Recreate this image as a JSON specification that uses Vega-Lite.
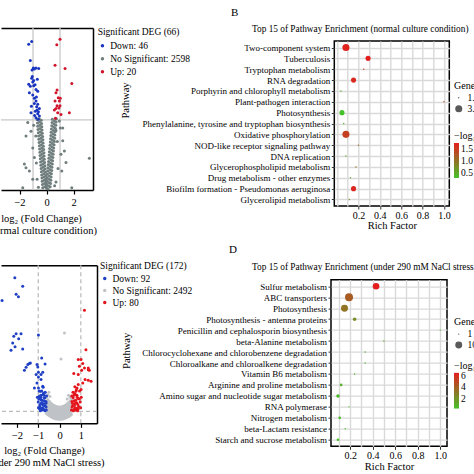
{
  "$schema": "https://vega.github.io/schema/vega-lite/v6.json",
  "padding": {"left": -17, "top": 6, "right": 0, "bottom": 0},
  "background": "white",
  "config": {
    "font": "Liberation Serif",
    "view": {"stroke": null},
    "title": {"font": "Liberation Serif", "fontWeight": "normal", "color": "black"},
    "axis": {"labelFont": "Liberation Serif", "titleFont": "Liberation Serif", "labelColor": "black", "titleColor": "black", "titleFontWeight": "normal"},
    "legend": {"labelFont": "Liberation Serif", "titleFont": "Liberation Serif", "labelColor": "black", "titleColor": "black", "titleFontWeight": "normal", "padding": 0}
  },
  "datasets": {
    "volA": [
      {"x":-0.28,"y":0.04,"g":"No Significant"},{"x":-0.13,"y":0.06,"g":"No Significant"},{"x":0.02,"y":0.03,"g":"No Significant"},{"x":-0.03,"y":0.05,"g":"No Significant"},{"x":0.12,"y":0.02,"g":"No Significant"},{"x":0.27,"y":0.06,"g":"No Significant"},
      {"x":-0.30,"y":0.10,"g":"No Significant"},{"x":-0.15,"y":0.12,"g":"No Significant"},{"x":0.00,"y":0.09,"g":"No Significant"},{"x":0.00,"y":0.11,"g":"No Significant"},{"x":0.15,"y":0.08,"g":"No Significant"},{"x":0.30,"y":0.12,"g":"No Significant"},
      {"x":-0.32,"y":0.16,"g":"No Significant"},{"x":-0.17,"y":0.18,"g":"No Significant"},{"x":-0.02,"y":0.15,"g":"No Significant"},{"x":0.02,"y":0.17,"g":"No Significant"},{"x":0.17,"y":0.14,"g":"No Significant"},{"x":0.32,"y":0.18,"g":"No Significant"},
      {"x":-0.34,"y":0.22,"g":"No Significant"},{"x":-0.19,"y":0.24,"g":"No Significant"},{"x":-0.04,"y":0.21,"g":"No Significant"},{"x":0.04,"y":0.23,"g":"No Significant"},{"x":0.19,"y":0.20,"g":"No Significant"},{"x":0.34,"y":0.24,"g":"No Significant"},
      {"x":-0.36,"y":0.28,"g":"No Significant"},{"x":-0.21,"y":0.30,"g":"No Significant"},{"x":-0.06,"y":0.27,"g":"No Significant"},{"x":0.06,"y":0.29,"g":"No Significant"},{"x":0.21,"y":0.26,"g":"No Significant"},{"x":0.36,"y":0.30,"g":"No Significant"},
      {"x":-0.38,"y":0.34,"g":"No Significant"},{"x":-0.23,"y":0.36,"g":"No Significant"},{"x":-0.08,"y":0.33,"g":"No Significant"},{"x":0.08,"y":0.35,"g":"No Significant"},{"x":0.23,"y":0.32,"g":"No Significant"},{"x":0.38,"y":0.36,"g":"No Significant"},
      {"x":-0.40,"y":0.40,"g":"No Significant"},{"x":-0.25,"y":0.42,"g":"No Significant"},{"x":-0.10,"y":0.39,"g":"No Significant"},{"x":0.10,"y":0.41,"g":"No Significant"},{"x":0.25,"y":0.38,"g":"No Significant"},{"x":0.40,"y":0.42,"g":"No Significant"},
      {"x":-0.42,"y":0.46,"g":"No Significant"},{"x":-0.27,"y":0.48,"g":"No Significant"},{"x":-0.12,"y":0.45,"g":"No Significant"},{"x":0.13,"y":0.47,"g":"No Significant"},{"x":0.28,"y":0.44,"g":"No Significant"},{"x":0.43,"y":0.48,"g":"No Significant"},
      {"x":-0.44,"y":0.52,"g":"No Significant"},{"x":-0.29,"y":0.54,"g":"No Significant"},{"x":-0.14,"y":0.51,"g":"No Significant"},{"x":0.15,"y":0.53,"g":"No Significant"},{"x":0.30,"y":0.50,"g":"No Significant"},{"x":0.45,"y":0.54,"g":"No Significant"},
      {"x":-0.46,"y":0.58,"g":"No Significant"},{"x":-0.31,"y":0.60,"g":"No Significant"},{"x":-0.16,"y":0.57,"g":"No Significant"},{"x":0.17,"y":0.59,"g":"No Significant"},{"x":0.32,"y":0.56,"g":"No Significant"},{"x":0.47,"y":0.60,"g":"No Significant"},
      {"x":-0.48,"y":0.64,"g":"No Significant"},{"x":-0.33,"y":0.66,"g":"No Significant"},{"x":-0.18,"y":0.63,"g":"No Significant"},{"x":0.19,"y":0.65,"g":"No Significant"},{"x":0.34,"y":0.62,"g":"No Significant"},{"x":0.49,"y":0.66,"g":"No Significant"},
      {"x":-0.49,"y":0.70,"g":"No Significant"},{"x":-0.34,"y":0.72,"g":"No Significant"},{"x":-0.19,"y":0.69,"g":"No Significant"},{"x":0.21,"y":0.71,"g":"No Significant"},{"x":0.36,"y":0.68,"g":"No Significant"},{"x":0.51,"y":0.72,"g":"No Significant"},
      {"x":-0.51,"y":0.76,"g":"No Significant"},{"x":-0.36,"y":0.78,"g":"No Significant"},{"x":-0.21,"y":0.75,"g":"No Significant"},{"x":0.23,"y":0.77,"g":"No Significant"},{"x":0.38,"y":0.74,"g":"No Significant"},{"x":0.53,"y":0.78,"g":"No Significant"},
      {"x":-0.53,"y":0.82,"g":"No Significant"},{"x":-0.38,"y":0.84,"g":"No Significant"},{"x":-0.23,"y":0.81,"g":"No Significant"},{"x":0.26,"y":0.83,"g":"No Significant"},{"x":0.41,"y":0.80,"g":"No Significant"},{"x":0.56,"y":0.84,"g":"No Significant"},
      {"x":-0.55,"y":0.88,"g":"No Significant"},{"x":-0.40,"y":0.90,"g":"No Significant"},{"x":-0.25,"y":0.87,"g":"No Significant"},{"x":0.28,"y":0.89,"g":"No Significant"},{"x":0.43,"y":0.86,"g":"No Significant"},{"x":0.58,"y":0.90,"g":"No Significant"},
      {"x":-0.57,"y":0.94,"g":"No Significant"},{"x":-0.42,"y":0.96,"g":"No Significant"},{"x":-0.27,"y":0.93,"g":"No Significant"},{"x":0.30,"y":0.95,"g":"No Significant"},{"x":0.45,"y":0.92,"g":"No Significant"},{"x":0.60,"y":0.96,"g":"No Significant"},
      {"x":-0.59,"y":1.00,"g":"No Significant"},{"x":-0.44,"y":1.02,"g":"No Significant"},{"x":-0.29,"y":0.99,"g":"No Significant"},{"x":0.32,"y":1.01,"g":"No Significant"},{"x":0.47,"y":0.98,"g":"No Significant"},{"x":0.62,"y":1.02,"g":"No Significant"},
      {"x":-0.61,"y":1.06,"g":"No Significant"},{"x":-0.46,"y":1.08,"g":"No Significant"},{"x":-0.31,"y":1.05,"g":"No Significant"},{"x":0.34,"y":1.07,"g":"No Significant"},{"x":0.49,"y":1.04,"g":"No Significant"},{"x":0.64,"y":1.08,"g":"No Significant"},
      {"x":-0.63,"y":1.12,"g":"No Significant"},{"x":-0.48,"y":1.14,"g":"No Significant"},{"x":-0.33,"y":1.11,"g":"No Significant"},{"x":0.36,"y":1.13,"g":"No Significant"},{"x":0.51,"y":1.10,"g":"No Significant"},{"x":0.66,"y":1.14,"g":"No Significant"},
      {"x":-0.65,"y":1.18,"g":"No Significant"},{"x":-0.50,"y":1.20,"g":"No Significant"},{"x":-0.35,"y":1.17,"g":"No Significant"},{"x":0.39,"y":1.19,"g":"No Significant"},{"x":0.54,"y":1.16,"g":"No Significant"},{"x":0.69,"y":1.20,"g":"No Significant"},
      {"x":-0.67,"y":1.24,"g":"No Significant"},{"x":-0.52,"y":1.26,"g":"No Significant"},{"x":-0.37,"y":1.23,"g":"No Significant"},{"x":0.41,"y":1.25,"g":"No Significant"},{"x":0.56,"y":1.22,"g":"No Significant"},{"x":0.71,"y":1.26,"g":"No Significant"},
      {"x":-0.69,"y":1.30,"g":"No Significant"},{"x":-0.54,"y":1.32,"g":"No Significant"},{"x":-0.39,"y":1.29,"g":"No Significant"},{"x":0.43,"y":1.31,"g":"No Significant"},{"x":0.58,"y":1.28,"g":"No Significant"},{"x":0.73,"y":1.32,"g":"No Significant"},
      {"x":-1.39,"y":1.25,"g":"No Significant"},{"x":-1.52,"y":1.0,"g":"No Significant"},{"x":-1.15,"y":1.09,"g":"No Significant"},{"x":-1.02,"y":0.78,"g":"No Significant"},{"x":-1.64,"y":0.48,"g":"No Significant"},{"x":-1.52,"y":0.41,"g":"No Significant"},
      {"x":-1.27,"y":0.35,"g":"No Significant"},{"x":-1.76,"y":0.04,"g":"No Significant"},{"x":-1.02,"y":0.2,"g":"No Significant"},{"x":1.2,"y":0.91,"g":"No Significant"},{"x":1.32,"y":0.72,"g":"No Significant"},{"x":1.44,"y":0.51,"g":"No Significant"},
      {"x":1.13,"y":0.35,"g":"No Significant"},{"x":1.87,"y":0.04,"g":"No Significant"},{"x":3.17,"y":0.59,"g":"No Significant"},{"x":1.02,"y":1.15,"g":"No Significant"},{"x":-0.90,"y":0.6,"g":"No Significant"},{"x":1.07,"y":0.66,"g":"No Significant"},
      {"x":0.95,"y":1.28,"g":"No Significant"},{"x":1.2,"y":1.15,"g":"No Significant"},{"x":-0.8,"y":1.0,"g":"No Significant"},{"x":-0.75,"y":0.5,"g":"No Significant"},{"x":0.8,"y":0.9,"g":"No Significant"},{"x":0.85,"y":0.4,"g":"No Significant"},
      {"x":-0.7,"y":0.2,"g":"No Significant"},{"x":0.7,"y":0.15,"g":"No Significant"},{"x":-0.95,"y":1.2,"g":"No Significant"},{"x":0.7,"y":1.1,"g":"No Significant"},{"x":-0.6,"y":0.05,"g":"No Significant"},{"x":0.6,"y":0.08,"g":"No Significant"},
      {"x":-1.32,"y":2.70,"g":"Down"},{"x":-1.10,"y":2.75,"g":"Down"},{"x":-1.20,"y":2.40,"g":"Down"},{"x":-0.98,"y":2.26,"g":"Down"},{"x":-1.07,"y":2.22,"g":"Down"},{"x":-0.90,"y":2.24,"g":"Down"},
      {"x":-0.78,"y":2.26,"g":"Down"},{"x":-0.58,"y":2.25,"g":"Down"},{"x":-1.10,"y":2.07,"g":"Down"},{"x":-0.95,"y":2.03,"g":"Down"},{"x":-1.02,"y":2.00,"g":"Down"},{"x":-1.32,"y":1.96,"g":"Down"},
      {"x":-1.20,"y":1.92,"g":"Down"},{"x":-0.95,"y":1.93,"g":"Down"},{"x":-0.78,"y":1.86,"g":"Down"},{"x":-1.27,"y":1.80,"g":"Down"},{"x":-1.02,"y":1.76,"g":"Down"},{"x":-0.65,"y":1.83,"g":"Down"},
      {"x":-0.90,"y":1.70,"g":"Down"},{"x":-0.78,"y":1.65,"g":"Down"},{"x":-0.65,"y":1.59,"g":"Down"},{"x":-0.90,"y":1.60,"g":"Down"},{"x":-0.73,"y":1.54,"g":"Down"},{"x":-0.53,"y":1.51,"g":"Down"},
      {"x":-1.15,"y":1.43,"g":"Down"},{"x":-0.83,"y":1.46,"g":"Down"},{"x":-0.65,"y":1.41,"g":"Down"},{"x":-0.53,"y":1.37,"g":"Down"},{"x":-0.78,"y":1.34,"g":"Down"},{"x":-0.61,"y":1.31,"g":"Down"},
      {"x":-1.05,"y":2.10,"g":"Down"},{"x":-0.85,"y":1.95,"g":"Down"},{"x":-0.70,"y":1.48,"g":"Down"},{"x":-0.60,"y":1.45,"g":"Down"},{"x":-0.75,"y":1.72,"g":"Down"},{"x":-0.88,"y":1.38,"g":"Down"},
      {"x":-1.12,"y":1.55,"g":"Down"},{"x":-0.68,"y":2.05,"g":"Down"},
      {"x":1.00,"y":2.79,"g":"Up"},{"x":0.76,"y":2.69,"g":"Up"},{"x":0.63,"y":2.31,"g":"Up"},{"x":1.37,"y":2.25,"g":"Up"},{"x":1.87,"y":1.97,"g":"Up"},{"x":0.78,"y":1.85,"g":"Up"},
      {"x":0.70,"y":1.80,"g":"Up"},{"x":0.87,"y":1.71,"g":"Up"},{"x":0.63,"y":1.65,"g":"Up"},{"x":0.95,"y":1.65,"g":"Up"},{"x":1.02,"y":1.70,"g":"Up"},{"x":0.78,"y":1.56,"g":"Up"},
      {"x":1.00,"y":1.56,"g":"Up"},{"x":0.58,"y":1.48,"g":"Up"},{"x":0.83,"y":1.43,"g":"Up"},{"x":1.07,"y":1.40,"g":"Up"},{"x":1.69,"y":1.43,"g":"Up"},{"x":0.70,"y":1.51,"g":"Up"},
      {"x":0.92,"y":1.52,"g":"Up"},{"x":0.66,"y":1.33,"g":"Up"}
    ],
    "volC": [
      {"x":-0.62,"y":0.96,"g":"No Significant"},{"x":-0.62,"y":1.82,"g":"No Significant"},{"x":-0.62,"y":2.68,"g":"No Significant"},{"x":-0.62,"y":3.54,"g":"No Significant"},
      {"x":-0.55,"y":0.76,"g":"No Significant"},{"x":-0.55,"y":1.58,"g":"No Significant"},{"x":-0.55,"y":2.39,"g":"No Significant"},{"x":-0.55,"y":3.21,"g":"No Significant"},
      {"x":-0.48,"y":0.58,"g":"No Significant"},{"x":-0.48,"y":1.36,"g":"No Significant"},{"x":-0.48,"y":2.14,"g":"No Significant"},{"x":-0.48,"y":2.92,"g":"No Significant"},
      {"x":-0.41,"y":0.42,"g":"No Significant"},{"x":-0.41,"y":1.17,"g":"No Significant"},{"x":-0.41,"y":1.92,"g":"No Significant"},{"x":-0.41,"y":2.67,"g":"No Significant"},
      {"x":-0.34,"y":0.29,"g":"No Significant"},{"x":-0.34,"y":1.01,"g":"No Significant"},{"x":-0.34,"y":1.74,"g":"No Significant"},{"x":-0.34,"y":2.46,"g":"No Significant"},
      {"x":-0.27,"y":0.18,"g":"No Significant"},{"x":-0.27,"y":0.88,"g":"No Significant"},{"x":-0.27,"y":1.59,"g":"No Significant"},{"x":-0.27,"y":2.29,"g":"No Significant"},
      {"x":-0.20,"y":0.10,"g":"No Significant"},{"x":-0.20,"y":0.79,"g":"No Significant"},{"x":-0.20,"y":1.47,"g":"No Significant"},{"x":-0.20,"y":2.16,"g":"No Significant"},
      {"x":-0.13,"y":0.04,"g":"No Significant"},{"x":-0.13,"y":0.72,"g":"No Significant"},{"x":-0.13,"y":1.39,"g":"No Significant"},{"x":-0.13,"y":2.07,"g":"No Significant"},
      {"x":-0.06,"y":0.01,"g":"No Significant"},{"x":-0.06,"y":0.68,"g":"No Significant"},{"x":-0.06,"y":1.34,"g":"No Significant"},{"x":-0.06,"y":2.01,"g":"No Significant"},
      {"x":0.01,"y":0.0,"g":"No Significant"},{"x":0.01,"y":0.67,"g":"No Significant"},{"x":0.01,"y":1.33,"g":"No Significant"},{"x":0.01,"y":2.0,"g":"No Significant"},
      {"x":0.08,"y":0.02,"g":"No Significant"},{"x":0.08,"y":0.69,"g":"No Significant"},{"x":0.08,"y":1.36,"g":"No Significant"},{"x":0.08,"y":2.03,"g":"No Significant"},
      {"x":0.15,"y":0.06,"g":"No Significant"},{"x":0.15,"y":0.74,"g":"No Significant"},{"x":0.15,"y":1.41,"g":"No Significant"},{"x":0.15,"y":2.09,"g":"No Significant"},
      {"x":0.22,"y":0.12,"g":"No Significant"},{"x":0.22,"y":0.81,"g":"No Significant"},{"x":0.22,"y":1.50,"g":"No Significant"},{"x":0.22,"y":2.19,"g":"No Significant"},
      {"x":0.29,"y":0.21,"g":"No Significant"},{"x":0.29,"y":0.92,"g":"No Significant"},{"x":0.29,"y":1.63,"g":"No Significant"},{"x":0.29,"y":2.34,"g":"No Significant"},
      {"x":0.36,"y":0.32,"g":"No Significant"},{"x":0.36,"y":1.05,"g":"No Significant"},{"x":0.36,"y":1.79,"g":"No Significant"},{"x":0.36,"y":2.52,"g":"No Significant"},
      {"x":0.43,"y":0.46,"g":"No Significant"},{"x":0.43,"y":1.22,"g":"No Significant"},{"x":0.43,"y":1.98,"g":"No Significant"},{"x":0.43,"y":2.74,"g":"No Significant"},
      {"x":0.50,"y":0.63,"g":"No Significant"},{"x":0.50,"y":1.42,"g":"No Significant"},{"x":0.50,"y":2.21,"g":"No Significant"},{"x":0.50,"y":3.0,"g":"No Significant"},
      {"x":0.56,"y":0.78,"g":"No Significant"},{"x":0.56,"y":1.60,"g":"No Significant"},{"x":0.56,"y":2.43,"g":"No Significant"},{"x":0.56,"y":3.25,"g":"No Significant"},
      {"x":-0.585,"y":1.28,"g":"No Significant"},{"x":-0.585,"y":2.11,"g":"No Significant"},{"x":-0.585,"y":2.95,"g":"No Significant"},
      {"x":-0.515,"y":1.06,"g":"No Significant"},{"x":-0.515,"y":1.86,"g":"No Significant"},{"x":-0.515,"y":2.66,"g":"No Significant"},
      {"x":-0.445,"y":0.88,"g":"No Significant"},{"x":-0.445,"y":1.65,"g":"No Significant"},{"x":-0.445,"y":2.41,"g":"No Significant"},
      {"x":-0.375,"y":0.72,"g":"No Significant"},{"x":-0.375,"y":1.46,"g":"No Significant"},{"x":-0.375,"y":2.19,"g":"No Significant"},
      {"x":-0.305,"y":0.59,"g":"No Significant"},{"x":-0.305,"y":1.30,"g":"No Significant"},{"x":-0.305,"y":2.01,"g":"No Significant"},
      {"x":-0.235,"y":0.49,"g":"No Significant"},{"x":-0.235,"y":1.18,"g":"No Significant"},{"x":-0.235,"y":1.87,"g":"No Significant"},
      {"x":-0.165,"y":0.41,"g":"No Significant"},{"x":-0.165,"y":1.09,"g":"No Significant"},{"x":-0.165,"y":1.77,"g":"No Significant"},
      {"x":-0.095,"y":0.36,"g":"No Significant"},{"x":-0.095,"y":1.03,"g":"No Significant"},{"x":-0.095,"y":1.70,"g":"No Significant"},
      {"x":-0.025,"y":0.33,"g":"No Significant"},{"x":-0.025,"y":1.0,"g":"No Significant"},{"x":-0.025,"y":1.67,"g":"No Significant"},
      {"x":0.045,"y":0.34,"g":"No Significant"},{"x":0.045,"y":1.01,"g":"No Significant"},{"x":0.045,"y":1.68,"g":"No Significant"},
      {"x":0.115,"y":0.37,"g":"No Significant"},{"x":0.115,"y":1.04,"g":"No Significant"},{"x":0.115,"y":1.71,"g":"No Significant"},
      {"x":0.185,"y":0.43,"g":"No Significant"},{"x":0.185,"y":1.11,"g":"No Significant"},{"x":0.185,"y":1.80,"g":"No Significant"},
      {"x":0.255,"y":0.51,"g":"No Significant"},{"x":0.255,"y":1.21,"g":"No Significant"},{"x":0.255,"y":1.91,"g":"No Significant"},
      {"x":0.325,"y":0.62,"g":"No Significant"},{"x":0.325,"y":1.34,"g":"No Significant"},{"x":0.325,"y":2.06,"g":"No Significant"},
      {"x":0.395,"y":0.76,"g":"No Significant"},{"x":0.395,"y":1.51,"g":"No Significant"},{"x":0.395,"y":2.25,"g":"No Significant"},
      {"x":0.465,"y":0.93,"g":"No Significant"},{"x":0.465,"y":1.70,"g":"No Significant"},{"x":0.465,"y":2.47,"g":"No Significant"},
      {"x":0.535,"y":1.12,"g":"No Significant"},{"x":0.535,"y":1.93,"g":"No Significant"},{"x":0.535,"y":2.74,"g":"No Significant"},
      {"x":0.23,"y":14.0,"g":"No Significant"},{"x":0.07,"y":9.8,"g":"No Significant"},{"x":-0.5,"y":4.4,"g":"No Significant"},{"x":0.42,"y":3.9,"g":"No Significant"},
      {"x":-0.45,"y":3.7,"g":"No Significant"},{"x":0.36,"y":3.3,"g":"No Significant"},{"x":-0.55,"y":4.0,"g":"No Significant"},{"x":0.5,"y":3.6,"g":"No Significant"},
      {"x":-2.10,"y":22.98,"g":"Down"},{"x":-1.73,"y":21.6,"g":"Down"},{"x":-2.04,"y":20.3,"g":"Down"},{"x":-1.93,"y":19.9,"g":"Down"},{"x":-2.70,"y":19.3,"g":"Down"},
      {"x":-2.15,"y":13.5,"g":"Down"},{"x":-2.04,"y":13.9,"g":"Down"},{"x":-1.81,"y":13.9,"g":"Down"},{"x":-1.92,"y":13.1,"g":"Down"},{"x":-2.20,"y":12.4,"g":"Down"},
      {"x":-2.09,"y":11.8,"g":"Down"},{"x":-2.28,"y":11.2,"g":"Down"},{"x":-1.73,"y":11.4,"g":"Down"},{"x":-0.99,"y":13.7,"g":"Down"},{"x":-1.49,"y":8.9,"g":"Down"},
      {"x":-1.42,"y":9.05,"g":"Down"},{"x":-1.57,"y":8.46,"g":"Down"},{"x":-1.65,"y":7.97,"g":"Down"},{"x":-0.84,"y":9.97,"g":"Down"},{"x":-0.68,"y":9.0,"g":"Down"},
      {"x":-1.06,"y":8.9,"g":"Down"},{"x":-0.99,"y":7.64,"g":"Down"},{"x":-0.87,"y":7.27,"g":"Down"},{"x":-1.37,"y":9.16,"g":"Down"},{"x":-1.02,"y":8.5,"g":"Down"},
      {"x":-1.10,"y":7.27,"g":"Down"},{"x":-0.99,"y":6.88,"g":"Down"},{"x":-0.87,"y":6.45,"g":"Down"},{"x":-0.79,"y":7.64,"g":"Down"},{"x":-1.06,"y":5.9,"g":"Down"},
      {"x":-1.18,"y":5.09,"g":"Down"},{"x":-0.99,"y":5.09,"g":"Down"},{"x":-0.90,"y":4.55,"g":"Down"},{"x":-0.79,"y":5.37,"g":"Down"},{"x":-0.74,"y":4.28,"g":"Down"},
      {"x":-0.95,"y":3.74,"g":"Down"},{"x":-0.87,"y":3.2,"g":"Down"},{"x":-0.71,"y":3.46,"g":"Down"},{"x":-0.63,"y":2.65,"g":"Down"},{"x":-0.79,"y":2.39,"g":"Down"},
      {"x":-0.62,"y":1.5,"g":"Down"},{"x":-0.68,"y":2.2,"g":"Down"},{"x":-0.74,"y":1.6,"g":"Down"},{"x":-0.80,"y":2.6,"g":"Down"},{"x":-0.86,"y":1.8,"g":"Down"},
      {"x":-0.92,"y":2.4,"g":"Down"},{"x":-0.97,"y":3.3,"g":"Down"},{"x":-0.64,"y":2.9,"g":"Down"},{"x":-0.70,"y":3.5,"g":"Down"},{"x":-0.76,"y":2.3,"g":"Down"},
      {"x":-0.82,"y":3.1,"g":"Down"},{"x":-0.88,"y":3.9,"g":"Down"},{"x":-0.94,"y":1.7,"g":"Down"},{"x":-1.0,"y":2.8,"g":"Down"},{"x":-0.61,"y":3.8,"g":"Down"},
      {"x":-0.67,"y":4.4,"g":"Down"},{"x":-0.73,"y":3.0,"g":"Down"},{"x":-0.79,"y":4.0,"g":"Down"},{"x":-0.85,"y":2.7,"g":"Down"},{"x":-0.91,"y":3.4,"g":"Down"},
      {"x":-0.96,"y":4.6,"g":"Down"},{"x":-0.63,"y":2.0,"g":"Down"},{"x":-0.69,"y":1.4,"g":"Down"},{"x":-0.75,"y":4.2,"g":"Down"},{"x":-0.81,"y":1.5,"g":"Down"},
      {"x":-0.87,"y":3.6,"g":"Down"},{"x":-0.93,"y":2.1,"g":"Down"},{"x":-0.99,"y":1.9,"g":"Down"},{"x":-0.66,"y":2.6,"g":"Down"},{"x":-0.72,"y":3.9,"g":"Down"},
      {"x":-0.78,"y":1.9,"g":"Down"},{"x":-0.84,"y":4.6,"g":"Down"},{"x":-0.90,"y":1.4,"g":"Down"},{"x":-1.04,"y":3.6,"g":"Down"},{"x":-0.77,"y":5.2,"g":"Down"},
      {"x":1.17,"y":17.7,"g":"Up"},{"x":1.24,"y":11.3,"g":"Up"},{"x":0.88,"y":9.7,"g":"Up"},{"x":1.01,"y":9.7,"g":"Up"},{"x":1.09,"y":9.05,"g":"Up"},
      {"x":0.93,"y":8.6,"g":"Up"},{"x":1.17,"y":8.35,"g":"Up"},{"x":1.35,"y":8.35,"g":"Up"},{"x":1.40,"y":7.97,"g":"Up"},{"x":1.04,"y":7.97,"g":"Up"},
      {"x":0.67,"y":7.43,"g":"Up"},{"x":0.88,"y":7.27,"g":"Up"},{"x":1.35,"y":8.07,"g":"Up"},{"x":1.20,"y":6.45,"g":"Up"},{"x":1.35,"y":6.34,"g":"Up"},
      {"x":1.48,"y":6.18,"g":"Up"},{"x":1.09,"y":5.9,"g":"Up"},{"x":0.88,"y":5.64,"g":"Up"},{"x":0.82,"y":5.09,"g":"Up"},{"x":1.01,"y":4.83,"g":"Up"},
      {"x":0.77,"y":4.55,"g":"Up"},
      {"x":0.56,"y":1.5,"g":"Up"},{"x":0.62,"y":2.2,"g":"Up"},{"x":0.68,"y":1.6,"g":"Up"},{"x":0.74,"y":2.6,"g":"Up"},{"x":0.80,"y":1.8,"g":"Up"},
      {"x":0.86,"y":2.4,"g":"Up"},{"x":0.93,"y":3.3,"g":"Up"},{"x":0.58,"y":2.9,"g":"Up"},{"x":0.64,"y":3.5,"g":"Up"},{"x":0.70,"y":2.3,"g":"Up"},
      {"x":0.76,"y":3.1,"g":"Up"},{"x":0.82,"y":3.9,"g":"Up"},{"x":0.88,"y":1.7,"g":"Up"},{"x":0.97,"y":2.8,"g":"Up"},{"x":0.57,"y":3.8,"g":"Up"},
      {"x":0.63,"y":4.4,"g":"Up"},{"x":0.69,"y":3.0,"g":"Up"},{"x":0.75,"y":4.0,"g":"Up"},{"x":0.81,"y":2.7,"g":"Up"},{"x":0.87,"y":3.4,"g":"Up"},
      {"x":0.94,"y":4.6,"g":"Up"},{"x":0.59,"y":2.0,"g":"Up"},{"x":0.65,"y":1.4,"g":"Up"},{"x":0.71,"y":4.2,"g":"Up"},{"x":0.77,"y":1.5,"g":"Up"},
      {"x":0.83,"y":3.6,"g":"Up"},{"x":0.90,"y":2.1,"g":"Up"},{"x":0.99,"y":1.9,"g":"Up"},{"x":0.61,"y":2.6,"g":"Up"},{"x":0.67,"y":3.9,"g":"Up"},
      {"x":0.73,"y":1.9,"g":"Up"},{"x":0.79,"y":4.8,"g":"Up"},{"x":0.85,"y":1.4,"g":"Up"},{"x":1.02,"y":3.6,"g":"Up"},{"x":0.72,"y":5.3,"g":"Up"}
    ],
    "pathB": [
      {"pathway":"Two-component system","rich":0.083,"genes":3,"logp":1.70},
      {"pathway":"Tuberculosis","rich":0.29,"genes":2,"logp":1.75},
      {"pathway":"Tryptophan metabolism","rich":0.25,"genes":1,"logp":1.45},
      {"pathway":"RNA degradation","rich":0.154,"genes":2,"logp":1.65},
      {"pathway":"Porphyrin and chlorophyll metabolism","rich":0.036,"genes":1,"logp":0.45},
      {"pathway":"Plant-pathogen interaction","rich":1.0,"genes":1,"logp":1.30},
      {"pathway":"Photosynthesis","rich":0.046,"genes":2,"logp":0.29},
      {"pathway":"Phenylalanine, tyrosine and tryptophan biosynthesis","rich":0.062,"genes":1,"logp":0.42},
      {"pathway":"Oxidative phosphorylation","rich":0.083,"genes":3,"logp":1.45},
      {"pathway":"NOD-like receptor signaling pathway","rich":0.2,"genes":1,"logp":1.10},
      {"pathway":"DNA replication","rich":0.083,"genes":1,"logp":0.60},
      {"pathway":"Glycerophospholipid metabolism","rich":0.177,"genes":1,"logp":1.05},
      {"pathway":"Drug metabolism - other enzymes","rich":0.125,"genes":1,"logp":0.55},
      {"pathway":"Biofilm formation - Pseudomonas aeruginosa","rich":0.154,"genes":2,"logp":1.68},
      {"pathway":"Glycerolipid metabolism","rich":0.114,"genes":1,"logp":0.80}
    ],
    "pathD": [
      {"pathway":"Sulfur metabolism","rich":0.43,"genes":9,"logp":6.5},
      {"pathway":"ABC transporters","rich":0.19,"genes":13,"logp":4.2},
      {"pathway":"Photosynthesis","rich":0.15,"genes":10,"logp":3.3},
      {"pathway":"Photosynthesis - antenna proteins","rich":0.24,"genes":3,"logp":2.3},
      {"pathway":"Penicillin and cephalosporin biosynthesis","rich":1.0,"genes":1,"logp":0.5},
      {"pathway":"beta-Alanine metabolism","rich":0.5,"genes":1,"logp":1.2},
      {"pathway":"Chlorocyclohexane and chlorobenzene degradation","rich":0.333,"genes":1,"logp":1.0},
      {"pathway":"Chloroalkane and chloroalkene degradation","rich":0.333,"genes":1,"logp":1.0},
      {"pathway":"Vitamin B6 metabolism","rich":0.24,"genes":1,"logp":0.8},
      {"pathway":"Arginine and proline metabolism","rich":0.12,"genes":2,"logp":1.0},
      {"pathway":"Amino sugar and nucleotide sugar metabolism","rich":0.092,"genes":3,"logp":0.8},
      {"pathway":"RNA polymerase","rich":0.19,"genes":1,"logp":0.6},
      {"pathway":"Nitrogen metabolism","rich":0.107,"genes":2,"logp":0.7},
      {"pathway":"beta-Lactam resistance","rich":0.157,"genes":1,"logp":0.5},
      {"pathway":"Starch and sucrose metabolism","rich":0.092,"genes":2,"logp":0.4}
    ]
  },
  "vconcat": [
    {
      "title": {"text": "B", "anchor": "start", "frame": "group", "dx": 230, "fontSize": 11, "offset": 6},
      "hconcat": [
        {
          "width": 92, "height": 191,
          "data": {"name": "volA"},
          "layer": [
            {
              "data": {"values": [{"fc": -1}, {"fc": 1}]},
              "mark": {"type": "rule", "color": "#c8c8c8", "strokeWidth": 1.3},
              "encoding": {
                "x": {"field": "fc", "type": "quantitative", "axis": {"orient": "top", "domain": true, "domainColor": "black", "domainWidth": 1.5, "ticks": false, "labels": false, "grid": false, "title": null}},
                "y": {"datum": 0, "axis": null},
                "y2": {"datum": 3.0}
              }
            },
            {
              "data": {"values": [{"p": 1.3}]},
              "mark": {"type": "rule", "color": "#c8c8c8", "strokeWidth": 1.3},
              "encoding": {"y": {"field": "p", "type": "quantitative", "axis": null}}
            },
            {
              "mark": {"type": "circle", "size": 9, "opacity": 1},
              "encoding": {
                "x": {"field": "x", "type": "quantitative", "scale": {"domain": [-3.37, 3.44], "nice": false, "zero": false},
                  "axis": {"orient": "bottom", "offset": -29, "values": [-2, 0, 2], "grid": false, "domainColor": "black", "domainWidth": 1.5, "tickColor": "black", "tickWidth": 1.2, "tickSize": 4, "labelFontSize": 10.5, "labelPadding": 3,
                    "title": ["log₂ (Fold Change)", "(normal culture condition)"], "titleFontSize": 10.5, "titleX": 40, "titleY": 31, "titleAlign": "center", "titleBaseline": "alphabetic", "titleLineHeight": 12.5}},
                "y": {"field": "y", "type": "quantitative", "scale": {"domain": [0, 3.0], "range": [162, 0], "nice": false, "zero": false},
                  "axis": {"orient": "right", "domain": true, "domainColor": "black", "domainWidth": 1.5, "ticks": false, "labels": false, "grid": false, "title": null}},
                "color": {"field": "g", "type": "nominal", "scale": {"domain": ["Down", "No Significant", "Up"], "range": ["#1a35c0", "#6f7d7d", "#d0142c"]},
                  "legend": {"title": "Significant DEG (66)", "orient": "none", "legendX": 96.7, "legendY": -1, "titleFontSize": 9.5, "labelFontSize": 9.5, "symbolSize": 12, "symbolType": "circle", "rowPadding": 2, "titlePadding": 4.5, "labelOffset": 3,
                    "labelExpr": "datum.label == 'Down' ? 'Down: 46' : datum.label == 'Up' ? 'Up: 20' : 'No Significant: 2598'"}}
              }
            }
          ],
          "resolve": {"axis": {"x": "independent", "y": "independent"}}
        },
        {
          "width": 115, "height": 165,
          "view": {"stroke": "black", "strokeWidth": 1.5},
          "title": {"text": "Top 15 of Pathway Enrichment (normal culture condition)", "anchor": "start", "frame": "group", "dx": -82.3, "fontSize": 9.3, "offset": 7},
          "data": {"name": "pathB"},
          "mark": {"type": "circle", "opacity": 1},
          "encoding": {
            "x": {"field": "rich", "type": "quantitative", "scale": {"domain": [-0.026, 1.05], "nice": false, "zero": false},
              "axis": {"values": [0, 0.1, 0.2, 0.3, 0.4, 0.5, 0.6, 0.7, 0.8, 0.9, 1.0], "labelExpr": "indexof(['0.2','0.4','0.6','0.8','1.0'], format(datum.value, '.1f')) >= 0 ? format(datum.value, '.1f') : ''",
                "tickOpacity": {"condition": {"test": "indexof(['0.2','0.4','0.6','0.8','1.0'], format(datum.value, '.1f')) >= 0", "value": 1}, "value": 0},
                "grid": true, "gridColor": "#d9d9d9", "gridWidth": 1.4, "domain": false, "tickColor": "#333333", "tickSize": 3, "labelFontSize": 10, "labelPadding": 1,
                "title": "Rich Factor", "titleFontSize": 10.5, "titleY": 22, "titleBaseline": "alphabetic"}},
            "y": {"field": "pathway", "type": "nominal", "sort": null, "scale": {"type": "point", "padding": 0.6},
              "axis": {"grid": true, "gridColor": "#d9d9d9", "gridWidth": 1.4, "domain": false, "tickSize": 3, "tickColor": "#333333", "labelFontSize": 9, "labelPadding": 1.5, "labelLimit": 300,
                "title": "Pathway", "titleFontSize": 10.5, "titleX": -208.3, "titleY": 59, "titleAlign": "center", "titleBaseline": "middle", "titleAngle": 270}},
            "size": {"field": "genes", "type": "quantitative", "scale": {"domain": [1, 3], "range": [2, 50]},
              "legend": {"title": "Gene number", "orient": "none", "legendX": 119.7, "legendY": 40, "values": [1, 3], "titleFontSize": 10, "labelFontSize": 9.5, "symbolFillColor": "#5a5a5a", "symbolStrokeWidth": 0, "rowPadding": 0, "titlePadding": 2}},
            "color": {"field": "logp", "type": "quantitative", "scale": {"domain": [0.29, 1.75], "range": ["#45c22a", "#e41e1e"], "interpolate": "rgb"},
              "legend": {"title": "−log₁₀(Pvalue)", "orient": "none", "legendX": 119.7, "legendY": 90, "direction": "vertical", "gradientLength": 35, "gradientThickness": 5, "values": [0.5, 1.0, 1.5], "format": ".1f", "titleFontSize": 10, "labelFontSize": 9.5, "gradientStrokeWidth": 0, "titlePadding": 2}}
          }
        }
      ],
      "spacing": 241.3,
      "bounds": "flush",
      "center": true,
      "resolve": {"scale": {"color": "independent", "size": "independent"}, "legend": {"color": "independent", "size": "independent"}}
    },
    {
      "title": {"text": "D", "anchor": "start", "frame": "group", "dx": 228, "fontSize": 11, "offset": 6},
      "hconcat": [
        {
          "width": 96, "height": 195.3,
          "data": {"name": "volC"},
          "layer": [
            {
              "data": {"values": [{"fc": -1}, {"fc": 1}]},
              "mark": {"type": "rule", "color": "#bdbdbd", "strokeWidth": 1.3, "strokeDash": [4, 3]},
              "encoding": {
                "x": {"field": "fc", "type": "quantitative", "axis": {"orient": "top", "domain": true, "domainColor": "black", "domainWidth": 1.5, "ticks": false, "labels": false, "grid": false, "title": null}},
                "y": {"datum": -0.65, "axis": null},
                "y2": {"datum": 25}
              }
            },
            {
              "data": {"values": [{"p": 1.3}]},
              "mark": {"type": "rule", "color": "#bdbdbd", "strokeWidth": 1.3, "strokeDash": [4, 3]},
              "encoding": {"y": {"field": "p", "type": "quantitative", "axis": null}}
            },
            {
              "mark": {"type": "circle", "size": 9, "opacity": 1},
              "encoding": {
                "x": {"field": "x", "type": "quantitative", "scale": {"domain": [-2.75, 1.76], "nice": false, "zero": false},
                  "axis": {"orient": "bottom", "offset": -37.3, "values": [-2, -1, 0, 1], "grid": false, "domainColor": "black", "domainWidth": 1.5, "tickColor": "black", "tickWidth": 1.2, "tickSize": 4, "labelFontSize": 10.5, "labelPadding": 3,
                    "title": ["log₂ (Fold Change)", "(under 290 mM NaCl stress)"], "titleFontSize": 10.5, "titleX": 43, "titleY": 30.5, "titleAlign": "center", "titleBaseline": "alphabetic", "titleLineHeight": 12}},
                "y": {"field": "y", "type": "quantitative", "scale": {"domain": [-0.65, 25], "range": [158, 0], "nice": false, "zero": false},
                  "axis": {"orient": "right", "domain": true, "domainColor": "black", "domainWidth": 1.5, "ticks": false, "labels": false, "grid": false, "title": null}},
                "color": {"field": "g", "type": "nominal", "scale": {"domain": ["Down", "No Significant", "Up"], "range": ["#1f3fc4", "#bfc3c7", "#e3141c"]},
                  "legend": {"title": "Significant DEG (172)", "orient": "none", "legendX": 99, "legendY": -4, "titleFontSize": 9.5, "labelFontSize": 9.5, "symbolSize": 12, "symbolType": "circle", "rowPadding": 1, "titlePadding": 3, "labelOffset": 3,
                    "labelExpr": "datum.label == 'Down' ? 'Down: 92' : datum.label == 'Up' ? 'Up: 80' : 'No Significant: 2492'"}}
              }
            }
          ],
          "resolve": {"axis": {"x": "independent", "y": "independent"}}
        },
        {
          "width": 116, "height": 166.7,
          "view": {"stroke": "black", "strokeWidth": 1.5},
          "title": {"text": "Top 15 of Pathway Enrichment (under 290 mM NaCl stress)", "anchor": "start", "frame": "group", "dx": -79, "fontSize": 9.3, "offset": 7},
          "data": {"name": "pathD"},
          "mark": {"type": "circle", "opacity": 1},
          "encoding": {
            "x": {"field": "rich", "type": "quantitative", "scale": {"domain": [0.03, 1.06], "nice": false, "zero": false},
              "axis": {"values": [0.1, 0.2, 0.3, 0.4, 0.5, 0.6, 0.7, 0.8, 0.9, 1.0], "labelExpr": "indexof(['0.2','0.4','0.6','0.8','1.0'], format(datum.value, '.1f')) >= 0 ? format(datum.value, '.1f') : ''",
                "tickOpacity": {"condition": {"test": "indexof(['0.2','0.4','0.6','0.8','1.0'], format(datum.value, '.1f')) >= 0", "value": 1}, "value": 0},
                "grid": true, "gridColor": "#d9d9d9", "gridWidth": 1.4, "domain": false, "tickColor": "#333333", "tickSize": 3, "labelFontSize": 10, "labelPadding": 1,
                "title": "Rich Factor", "titleFontSize": 10.5, "titleY": 23, "titleBaseline": "alphabetic"}},
            "y": {"field": "pathway", "type": "nominal", "sort": null, "scale": {"type": "point", "padding": 0.6},
              "axis": {"grid": true, "gridColor": "#d9d9d9", "gridWidth": 1.4, "domain": false, "tickSize": 3, "tickColor": "#333333", "labelFontSize": 9, "labelPadding": 1.5, "labelLimit": 300,
                "title": "Pathway", "titleFontSize": 10.5, "titleX": -205, "titleY": 70.7, "titleAlign": "center", "titleBaseline": "middle", "titleAngle": 270}},
            "size": {"field": "genes", "type": "quantitative", "scale": {"domain": [1, 13], "range": [2, 64]},
              "legend": {"title": "Gene number", "orient": "none", "legendX": 123, "legendY": 37.7, "values": [1, 10], "titleFontSize": 10, "labelFontSize": 9.5, "symbolFillColor": "#5a5a5a", "symbolStrokeWidth": 0, "rowPadding": 0, "titlePadding": 2}},
            "color": {"field": "logp", "type": "quantitative", "scale": {"domain": [0.4, 6.5], "range": ["#45c22a", "#e41e1e"], "interpolate": "rgb"},
              "legend": {"title": "−log₁₀(Pvalue)", "orient": "none", "legendX": 123, "legendY": 81.2, "direction": "vertical", "gradientLength": 35.7, "gradientThickness": 5, "values": [2, 4, 6], "format": "d", "titleFontSize": 10, "labelFontSize": 9.5, "gradientStrokeWidth": 0, "titlePadding": 2}}
          }
        }
      ],
      "spacing": 234,
      "bounds": "flush",
      "center": true,
      "resolve": {"scale": {"color": "independent", "size": "independent"}, "legend": {"color": "independent", "size": "independent"}}
    }
  ],
  "spacing": 237,
  "bounds": "flush",
  "resolve": {"scale": {"color": "independent", "size": "independent"}, "legend": {"color": "independent", "size": "independent"}}
}
